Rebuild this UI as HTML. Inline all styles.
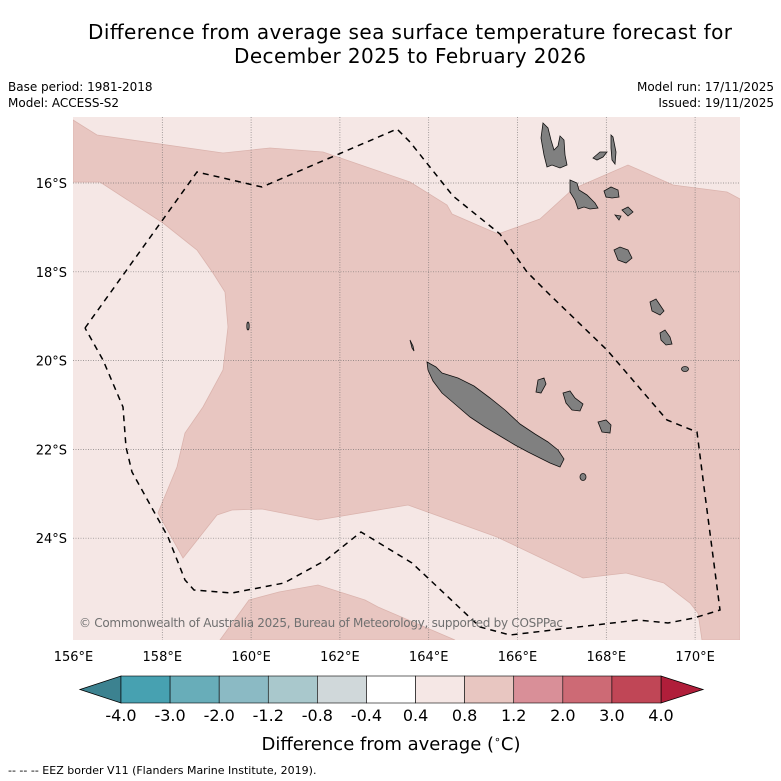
<!DOCTYPE html>
<html><head><meta charset="utf-8"><style>
body{margin:0;background:#fff;font-family:"DejaVu Sans","Liberation Sans",sans-serif;}
svg{display:block}
</style></head><body>
<svg id="chart" width="781" height="781" viewBox="0 0 781 781" xmlns="http://www.w3.org/2000/svg" font-family="DejaVu Sans, Liberation Sans, sans-serif">
<rect width="781" height="781" fill="#fff"/>
<text x="410" y="39" font-size="20" text-anchor="middle" fill="#000" textLength="644">Difference from average sea surface temperature forecast for</text>
<text x="410" y="63" font-size="20" text-anchor="middle" fill="#000" textLength="352">December 2025 to February 2026</text>
<text x="8" y="91" font-size="12">Base period: 1981-2018</text>
<text x="8" y="107" font-size="12">Model: ACCESS-S2</text>
<text x="774" y="91" font-size="12" text-anchor="end">Model run: 17/11/2025</text>
<text x="774" y="107" font-size="12" text-anchor="end">Issued: 19/11/2025</text>
<defs><clipPath id="mapclip"><rect x="73" y="117" width="667" height="523"/></clipPath></defs>
<g id="map" clip-path="url(#mapclip)">
<rect x="73" y="117" width="667" height="523" fill="#f5e7e5"/>
<polygon fill="#e8c6c1" stroke="#dbb4ae" stroke-width="0.8" points="73,120 97,135 223,153 270,148 323,152 410,182 447,205 452,214 498,234 540,219 573,189 628,165 673,185 727,192 740,199 740,640 702,640 698,613 690,603 664,583 626,573 583,578 497,537 408,505 318,520 262,509 232,510 217,515 183,558 158,513 177,467 185,433 203,407 223,370 228,327 225,292 213,273 197,250 163,223 100,182 73,182"/>
<polygon fill="#e8c6c1" stroke="#dbb4ae" stroke-width="0.8" points="220,640 249,600 279,592 318,585 365,600 378,607 455,640"/>
<g id="grid" stroke="#666" stroke-width="0.7" stroke-dasharray="1,1.5" opacity="0.8"></g>
<g fill="#808080" stroke="#111" stroke-width="0.8">
<polygon points="427,362 436,367 442,373 458,378 474,386 490,398 505,410 520,424 535,434 548,442 558,450 564,459 560,467 550,463 540,458 528,452 515,445 500,436 485,427 470,417 456,405 442,393 433,381 428,370"/>
<polygon points="543,123 548,128 551,140 554,150 558,146 560,136 564,140 565,155 567,165 560,168 552,165 547,167 544,155 541,138"/>
<polygon points="570,180 577,183 579,190 587,195 595,203 598,208 590,209 584,207 578,209 575,200 570,192"/>
<polygon points="604,191 611,187 618,190 619,197 612,198 606,197"/>
<polygon points="611,135 613,137 616,152 615,164 612,160 611,148"/>
<polygon points="593,158 600,152 607,152 603,157 597,160"/>
<polygon points="614,250 620,247 628,250 632,258 626,263 618,260"/>
<polygon points="650,302 656,299 660,305 664,311 660,315 652,311"/>
<polygon points="660,333 665,330 670,337 672,344 666,345 661,340"/>
<polygon points="538,380 544,378 546,384 541,393 536,392"/>
<polygon points="563,393 570,391 575,398 583,404 580,411 572,410 566,403"/>
<polygon points="598,422 606,420 611,425 610,433 602,432"/>
<ellipse cx="583" cy="477" rx="3" ry="3.5"/>
<ellipse cx="685" cy="369" rx="3.5" ry="2.5"/>
<ellipse cx="248" cy="326" rx="1.2" ry="4"/>
<polygon points="410,340 413,346 414,351 412,348"/>
<polygon points="622,210 628,207 633,212 628,216"/>
<polygon points="615,215 621,216 619,220"/>
</g>
<polyline fill="none" stroke="#000" stroke-width="1.5" stroke-dasharray="6,5" points="85,328 197,172 262,187 397,129 410,142 453,196 500,234 527,272 550,295 607,350 667,420 697,432 704,487 720,610 694,618 668,623 638,620 510,635 480,627 412,563 361,532 326,560 284,583 232,593 194,590 185,580 168,537 132,472 126,447 123,407 103,360 85,328"/>
<text x="79" y="627" font-size="12" fill="#707070" textLength="484">© Commonwealth of Australia 2025, Bureau of Meteorology, supported by COSPPac</text>
</g>
<g id="axes" font-size="13"></g>
<g id="cbar"></g>
<text x="391" y="750" font-size="18" text-anchor="middle">Difference from average (<tspan font-size="11" dy="-7">∘</tspan><tspan dy="7">C)</tspan></text>
<text x="8" y="774" font-size="11">--  --  -- EEZ border V11 (Flanders Marine Institute, 2019).</text>
</svg>
<script>
const lonTicks=[156,158,160,162,164,166,168,170];
const latTicks=[16,18,20,22,24];
const cbLevels=["-4.0","-3.0","-2.0","-1.2","-0.8","-0.4","0.4","0.8","1.2","2.0","3.0","4.0"];
const cbColors=["#47a1b1","#68adb9","#8bbac4","#a9c8cc","#d0d8da","#ffffff","#f5e7e5","#e8c6c1","#d98f98","#cd6a75","#c04656"];
const cbUnder="#3c8290", cbOver="#b01e3a";
const NS="http://www.w3.org/2000/svg";
const x0=73, y0=117, x1=740, y1=640, pxDeg=44.4;
function lx(lon){return 73.5+(lon-156)*pxDeg;}
function ly(lat){return 183+(lat-16)*pxDeg;}
function mk(tag,attrs,parent){const e=document.createElementNS(NS,tag);for(const k in attrs)e.setAttribute(k,attrs[k]);parent.appendChild(e);return e;}
const grid=document.getElementById('grid'), axes=document.getElementById('axes');
lonTicks.forEach(l=>{
  const x=lx(l);
  if(x>x0+2){const g=mk('line',{x1:x,y1:y0,x2:x,y2:y1},grid);
  
  }
  const t=mk('text',{x:x,y:661,'text-anchor':'middle'},axes);t.textContent=l+'°E';
  
  
});
latTicks.forEach(l=>{
  const y=ly(l);
  const g=mk('line',{x1:x0,y1:y,x2:x1,y2:y},grid);
  
  
  const t=mk('text',{x:67,y:y+5,'text-anchor':'end'},axes);t.textContent=l+'°S';
  
  
});
const cb=document.getElementById('cbar');
const cx0=121, cx1=661, cy=676, ch=27, seg=(cx1-cx0)/cbColors.length;
const under=mk('polygon',{points:`${cx0},${cy} ${cx0},${cy+ch} 80,${cy+ch/2}`,fill:cbUnder,stroke:'#000','stroke-width':0.8},cb);


const over=mk('polygon',{points:`${cx1},${cy} ${cx1},${cy+ch} 703,${cy+ch/2}`,fill:cbOver,stroke:'#000','stroke-width':0.8},cb);


cbColors.forEach((c,i)=>{
  const r=mk('rect',{x:cx0+i*seg,y:cy,width:seg,height:ch,fill:c,stroke:'#000','stroke-width':0.6},cb);
  
  
});
cbLevels.forEach((s,i)=>{
  const t=mk('text',{x:cx0+i*seg,y:721,'text-anchor':'middle','font-size':16},cb);t.textContent=s;
  
  
});
</script>
</body></html>
